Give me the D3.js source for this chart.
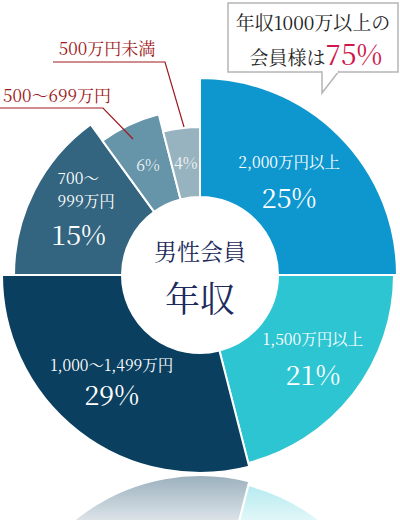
<!DOCTYPE html>
<html>
<head>
<meta charset="utf-8">
<script src="https://cdn.jsdelivr.net/npm/d3@7"></script>
<style>
  body { margin: 0; background: #fff; }
  svg { display: block; }
  text { font-family: "Noto Serif CJK JP", "Liberation Serif", "DejaVu Serif", "Noto Sans CJK JP", serif; }
</style>
</head>
<body>
<script>
// data
var categories = ["2,000万円以上", "1,500万円以上", "1,000〜1,499万円", "700〜999万円", "500〜699万円", "500万円未満"];
var shares = [25, 21, 29, 15, 6, 4];

// styling per slice (not data)
var colors = ["#0e97cf", "#2ec5d2", "#0b3f60", "#336580", "#6695aa", "#97b3bf"];
var outerR = [197, 194, 198, 186, 166, 148];
var labelR = [126, 143, 144, 134, 122, 113];

var svgWidth = 400;
var svgHeight = 520;
var cx = 200, cy = 275;
var innerR = 78;
var mirrorY = 474;

var svg = d3.select("body")
  .append("svg")
  .attr("width", svgWidth)
  .attr("height", svgHeight);

var defs = svg.append("defs");
var grad = defs.append("linearGradient")
  .attr("id", "fade")
  .attr("gradientUnits", "userSpaceOnUse")
  .attr("x1", 0).attr("x2", 0)
  .attr("y1", mirrorY).attr("y2", 545);
grad.append("stop").attr("offset", 0).attr("stop-color", "#fff").attr("stop-opacity", 0.42);
grad.append("stop").attr("offset", 1).attr("stop-color", "#fff").attr("stop-opacity", 0);
defs.append("mask").attr("id", "fadeMask")
  .attr("maskUnits", "userSpaceOnUse")
  .attr("x", 0).attr("y", 0).attr("width", svgWidth).attr("height", svgHeight)
  .append("rect")
  .attr("x", 0).attr("y", mirrorY).attr("width", svgWidth).attr("height", svgHeight - mirrorY)
  .attr("fill", "url(#fade)");

var pie = d3.pie().sort(null).value(d => d);
var arcs = pie(shares);

function arcFor(i) {
  return d3.arc().innerRadius(innerR).outerRadius(outerR[i]);
}

function drawSlices(g) {
  g.selectAll("path")
    .data(arcs)
    .enter()
    .append("path")
    .attr("d", (d, i) => arcFor(i)(d))
    .attr("fill", (d, i) => colors[i])
    .attr("stroke", "#fff")
    .attr("stroke-width", 2);
}

// reflection under the pie
var reflect = svg.append("g").attr("mask", "url(#fadeMask)")
  .append("g")
  .attr("transform", `translate(${cx}, ${2 * mirrorY - cy}) scale(1,-1)`);
drawSlices(reflect);

var chartGroup = svg.append("g")
  .attr("transform", `translate(${cx}, ${cy})`);
drawSlices(chartGroup);

chartGroup.append("circle").attr("r", innerR - 1).attr("fill", "#fff");

// slice labels
arcs.forEach(function(d, i) {
  var c = d3.arc().innerRadius(labelR[i]).outerRadius(labelR[i]).centroid(d);
  var g = chartGroup.append("g")
    .attr("transform", `translate(${c[0]}, ${c[1]})`)
    .attr("fill", "#fff");
  if (i < 3) {
    var gap = i == 2 ? [-18, 16] : [-18, 22];
    g.append("text").attr("text-anchor", "middle").attr("y", gap[0])
      .style("font-size", "15.5px").text(categories[i]);
    g.append("text").attr("text-anchor", "middle").attr("y", gap[1])
      .style("font-size", "27px").text(shares[i] + "%");
  } else if (i == 3) {
    var parts = categories[i].split("〜");
    g.append("text").attr("x", -23).attr("y", -30).style("font-size", "15.5px").text(parts[0] + "〜");
    g.append("text").attr("x", -23).attr("y", -7).style("font-size", "15.5px").text(parts[1]);
    g.append("text").attr("text-anchor", "middle").attr("x", -2).attr("y", 31)
      .style("font-size", "27px").text(shares[i] + "%");
  } else {
    g.append("text").attr("text-anchor", "middle").attr("y", 6)
      .style("font-size", "16px").attr("fill-opacity", 0.9).text(shares[i] + "%");
  }
});

// center title
chartGroup.append("text").attr("text-anchor", "middle").attr("y", -15)
  .attr("fill", "#1c2a5c").style("font-size", "23px").text("男性会員");
chartGroup.append("text").attr("text-anchor", "middle").attr("y", 37)
  .attr("fill", "#1c2a5c").style("font-size", "35px").text("年収");

// outside labels for the small slices
var red = "#9e1a20";
var outside = [
  { i: 5, x: 107, y: 55, line: [[53, 62], [165, 62], [184, 127]] },
  { i: 4, x: 57, y: 102, line: [[0, 108], [103, 108], [133, 139]] }
];
outside.forEach(function(o) {
  svg.append("text").attr("x", o.x).attr("y", o.y).attr("text-anchor", "middle")
    .attr("fill", red).style("font-size", "17px").text(categories[o.i]);
  svg.append("path").attr("d", d3.line()(o.line))
    .attr("fill", "none").attr("stroke", red).attr("stroke-width", 1.2);
});

// callout
var total = shares[0] + shares[1] + shares[2];
var callout = svg.append("g");
callout.append("rect").attr("x", 228).attr("y", 3).attr("width", 170).attr("height", 69)
  .attr("fill", "#fff").attr("stroke", "#b5b5b5").attr("stroke-width", 1.5);
callout.append("path").attr("d", "M322,71 L322,93 L339,71")
  .attr("fill", "#fff").attr("stroke", "#b5b5b5").attr("stroke-width", 1.5);
callout.append("rect").attr("x", 322.8).attr("y", 70).attr("width", 15).attr("height", 3).attr("fill", "#fff");
callout.append("text").attr("x", 313).attr("y", 30).attr("text-anchor", "middle")
  .attr("fill", "#222").style("font-size", "19px").text("年収1000万以上の");
var t2 = callout.append("text").attr("x", 316).attr("y", 65).attr("text-anchor", "middle")
  .attr("fill", "#222").style("font-size", "19px");
t2.append("tspan").text("会員様は");
t2.append("tspan").attr("fill", "#d0174b").style("font-size", "28px").text(total + "%");
</script>
</body>
</html>
